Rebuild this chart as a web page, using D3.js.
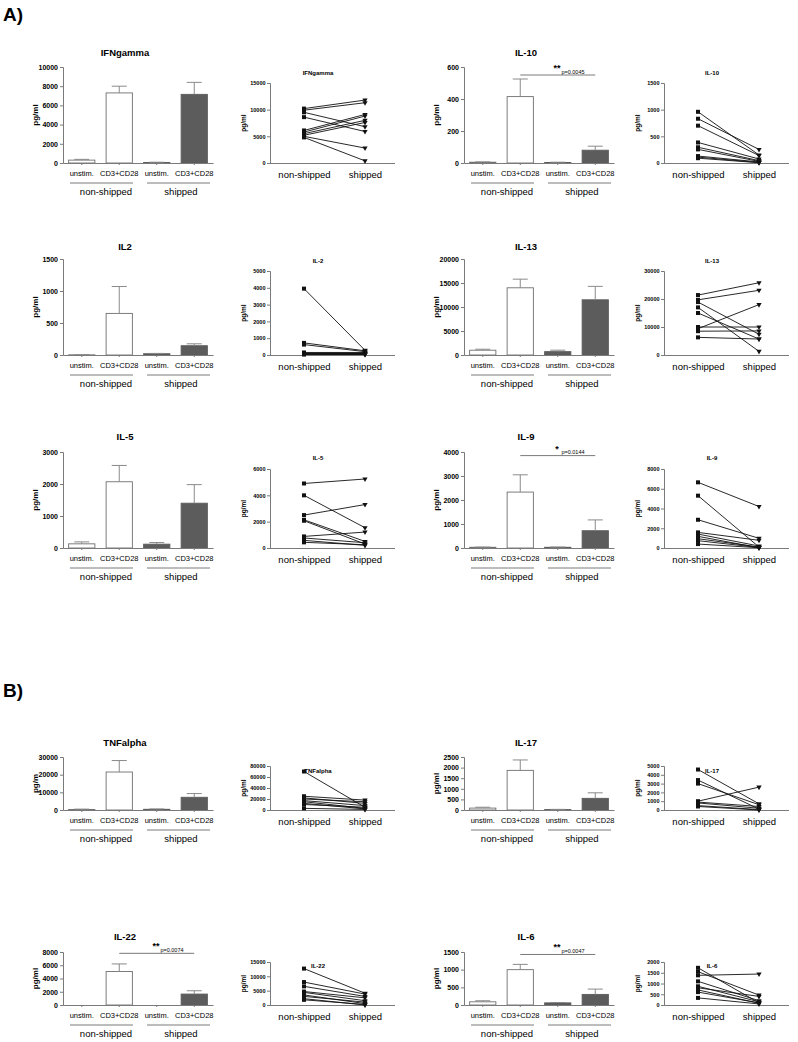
<!DOCTYPE html>
<html><head><meta charset="utf-8">
<script src="https://cdn.jsdelivr.net/npm/d3@7"></script>
<style>body{margin:0;background:#fff;} svg{display:block;font-family:"Liberation Sans",Arial,Helvetica,sans-serif;}</style>
</head><body><svg id="c" width="798" height="1042"></svg>
<script>
// ---------- data ----------
const barCategories = ["unstim.", "CD3+CD28", "unstim.", "CD3+CD28"];
const groupLabels = ["non-shipped", "shipped"];

const ifnBarMean = [300, 7300, 50, 7150];
const ifnBarUpper = [380, 8000, 80, 8400];
const ifnBarTicks = [0, 2000, 4000, 6000, 8000, 10000];
const ifnNon = [10200, 9900, 9500, 8600, 6100, 5800, 5500, 5200, 5000, 4800];
const ifnShip = [11800, 11300, 6800, 5900, 9100, 8800, 8000, 7600, 2800, 400];
const ifnLineTicks = [0, 5000, 10000, 15000];

const il10BarMean = [5, 415, 3, 80];
const il10BarUpper = [7, 525, 5, 105];
const il10BarTicks = [0, 200, 400, 600];
const il10Non = [960, 830, 700, 385, 295, 255, 130, 110, 90];
const il10Ship = [150, 255, 140, 75, 45, 30, 20, 10, 5];
const il10LineTicks = [0, 500, 1000, 1500];

const il2BarMean = [3, 650, 20, 145];
const il2BarUpper = [5, 1070, 25, 175];
const il2BarTicks = [0, 500, 1000, 1500];
const il2Non = [3950, 720, 620, 150, 100, 80, 60, 50, 30];
const il2Ship = [280, 250, 200, 150, 100, 80, 60, 50, 30];
const il2LineTicks = [0, 1000, 2000, 3000, 4000, 5000];

const il13BarMean = [1000, 14000, 700, 11500];
const il13BarUpper = [1200, 15800, 1000, 14300];
const il13BarTicks = [0, 5000, 10000, 15000, 20000];
const il13Non = [21400, 19700, 18900, 17000, 15000, 10000, 9400, 8500, 6300];
const il13Ship = [25800, 23100, 7400, 1300, 5700, 10000, 18000, 8600, 5700];
const il13LineTicks = [0, 10000, 20000, 30000];

const il5BarMean = [130, 2070, 120, 1400];
const il5BarUpper = [190, 2580, 170, 1980];
const il5BarTicks = [0, 1000, 2000, 3000];
const il5Non = [4900, 4000, 2500, 2140, 2070, 880, 760, 580, 430];
const il5Ship = [5240, 1540, 3300, 500, 300, 1210, 400, 200, 250];
const il5LineTicks = [0, 2000, 4000, 6000];

const il9BarMean = [30, 2330, 30, 720];
const il9BarUpper = [40, 3050, 40, 1170];
const il9BarTicks = [0, 1000, 2000, 3000, 4000];
const il9Non = [6650, 5300, 2860, 1580, 1410, 1180, 940, 740, 400];
const il9Ship = [4200, 100, 980, 780, 200, 30, 100, 50, 30];
const il9LineTicks = [0, 2000, 4000, 6000, 8000];

const tnfBarMean = [300, 21500, 400, 7200];
const tnfBarUpper = [500, 28000, 600, 9300];
const tnfBarTicks = [0, 10000, 20000, 30000];
const tnfNon = [70000, 25000, 22000, 20000, 17000, 15000, 12000, 10000, 3000];
const tnfShip = [5000, 18000, 12000, 15000, 8000, 3000, 2000, 5000, 1000];
const tnfLineTicks = [0, 20000, 40000, 60000, 80000];

const il17BarMean = [90, 1870, 20, 550];
const il17BarUpper = [130, 2360, 30, 810];
const il17BarTicks = [0, 500, 1000, 1500, 2000, 2500];
const il17Non = [4600, 3400, 3000, 1000, 900, 800, 500, 400];
const il17Ship = [700, 100, 600, 2600, 400, 200, 50, 0];
const il17LineTicks = [0, 1000, 2000, 3000, 4000, 5000];

const il22BarMean = [0, 5050, 0, 1650];
const il22BarUpper = [0, 6200, 0, 2150];
const il22BarTicks = [0, 2000, 4000, 6000, 8000];
const il22Non = [12700, 8000, 6500, 4700, 4400, 3500, 3000, 2200, 1800];
const il22Ship = [4100, 3800, 3000, 2500, 1500, 500, 1000, 0, 200];
const il22LineTicks = [0, 5000, 10000, 15000];

const il6BarMean = [90, 1000, 60, 300];
const il6BarUpper = [120, 1150, 70, 450];
const il6BarTicks = [0, 500, 1000, 1500];
const il6Non = [1730, 1550, 1380, 1100, 870, 800, 700, 600, 330];
const il6Ship = [100, 460, 1440, 200, 150, 400, 80, 100, 50];
const il6LineTicks = [0, 500, 1000, 1500, 2000];

// ---------- drawing ----------
const svg = d3.select("#c");
const AX = "#7a7a7a";
const FONT = '"Liberation Sans",Arial,Helvetica,sans-serif';

function styleAxis(g, fs) {
  g.select(".domain").attr("stroke", AX).attr("stroke-width", 1);
  g.selectAll(".tick line").attr("stroke", AX);
  g.selectAll(".tick text").attr("fill", "#000").attr("font-size", fs).attr("font-family", FONT);
}

function drawBar(o) {
  const g = svg.append("g");
  const W = 150;
  const y = d3.scaleLinear().domain([0, d3.max(o.ticks)]).range([o.bottom, o.top]);
  const x = d3.scaleBand().domain(d3.range(4)).range([o.x0, o.x0 + W]).paddingInner(0.3).paddingOuter(0.15);
  g.append("text").attr("x", o.x0 + 62).attr("y", o.titleY).attr("text-anchor", "middle")
    .attr("dominant-baseline", "middle").attr("font-weight", "bold").attr("font-size", 9.5).text(o.title);
  g.append("text").attr("transform", `translate(${o.x0 - 25},${(o.top + o.bottom) / 2}) rotate(-90)`)
    .attr("text-anchor", "middle").attr("font-weight", "bold").attr("font-size", 8).text(o.ylabel || "pg/ml");
  g.selectAll("rect.b").data(o.mean).join("rect")
    .attr("x", (d, i) => x(i)).attr("width", x.bandwidth())
    .attr("y", d => y(d)).attr("height", d => o.bottom - y(d))
    .attr("fill", (d, i) => i < 2 ? "#fff" : "#5c5c5c")
    .attr("stroke", (d, i) => i < 2 ? "#6f6f6f" : "#5c5c5c").attr("stroke-width", 0.9);
  o.upper.forEach((u, i) => {
    if (u <= o.mean[i]) return;
    const cx = x(i) + x.bandwidth() / 2;
    g.append("line").attr("x1", cx).attr("x2", cx).attr("y1", y(o.mean[i])).attr("y2", y(u)).attr("stroke", "#8a8a8a");
    g.append("line").attr("x1", cx - 7.5).attr("x2", cx + 7.5).attr("y1", y(u)).attr("y2", y(u)).attr("stroke", "#8a8a8a");
  });
  const ya = g.append("g").attr("transform", `translate(${o.x0},0)`)
    .call(d3.axisLeft(y).tickValues(o.ticks).tickSize(3).tickPadding(2).tickFormat(d3.format("d")));
  styleAxis(ya, 7);
  ya.selectAll(".tick text").attr("font-weight", "bold");
  const xa = g.append("g").attr("transform", `translate(0,${o.bottom})`)
    .call(d3.axisBottom(x).tickSize(2).tickPadding(6).tickSizeOuter(0).tickFormat(i => barCategories[i]));
  styleAxis(xa, 7.5);
  const gy = o.bottom + 20;
  [[o.x0 + 7, o.x0 + 70, 43], [o.x0 + 84, o.x0 + 147, 118]].forEach((s, k) => {
    g.append("line").attr("x1", s[0]).attr("x2", s[1]).attr("y1", gy).attr("y2", gy).attr("stroke", AX);
    g.append("text").attr("x", o.x0 + s[2]).attr("y", gy + 9).attr("text-anchor", "middle")
      .attr("dominant-baseline", "middle").attr("font-size", 9.5).text(groupLabels[k]);
  });
  if (o.sig) {
    const x1 = x(1) + x.bandwidth() / 2, x2 = x(3) + x.bandwidth() / 2;
    const sy = y(o.sig.level);
    g.append("line").attr("x1", x1).attr("x2", x2).attr("y1", sy).attr("y2", sy).attr("stroke", AX);
    g.append("text").attr("x", o.x0 + 93).attr("y", sy - 4).attr("text-anchor", "middle")
      .attr("font-weight", "bold").attr("font-size", 9).text(o.sig.stars);
    g.append("text").attr("x", o.x0 + 109).attr("y", sy - 1.5).attr("text-anchor", "middle")
      .attr("font-size", 5.5).text(o.sig.p);
  }
}

function drawLine(o) {
  const g = svg.append("g");
  const y = d3.scaleLinear().domain([0, d3.max(o.ticks)]).range([o.bottom, o.top]);
  const x = d3.scalePoint().domain(groupLabels).range([o.x0 + 34, o.x0 + 95]);
  g.append("text").attr("x", o.x0 + 48).attr("y", o.titleY).attr("text-anchor", "middle")
    .attr("dominant-baseline", "middle").attr("font-weight", "bold").attr("font-size", 6).text(o.title);
  g.append("text").attr("transform", `translate(${o.x0 - 24},${(o.top + o.bottom) / 2}) rotate(-90)`)
    .attr("text-anchor", "middle").attr("font-weight", "bold").attr("font-size", 6.5).text("pg/ml");
  const ya = g.append("g").attr("transform", `translate(${o.x0},0)`)
    .call(d3.axisLeft(y).tickValues(o.ticks).tickSize(3).tickPadding(1.5).tickFormat(d3.format("d")));
  styleAxis(ya, 5.5);
  ya.selectAll(".tick text").attr("font-weight", "bold");
  const xa = g.append("g").attr("transform", `translate(0,${o.bottom})`)
    .call(d3.axisBottom(x).tickSize(0).tickPadding(8).tickSizeOuter(0));
  xa.select(".domain").attr("d", `M${o.x0},0.5H${o.x0 + 125}`);
  styleAxis(xa, 9.5);
  const xn = x(groupLabels[0]), xs = x(groupLabels[1]);
  o.non.forEach((v, i) => {
    g.append("line").attr("x1", xn).attr("x2", xs).attr("y1", y(v)).attr("y2", y(o.ship[i]))
      .attr("stroke", "#111").attr("stroke-width", 0.9);
  });
  g.selectAll("rect.m").data(o.non).join("rect")
    .attr("x", xn - 2).attr("y", d => y(d) - 2).attr("width", 4).attr("height", 4).attr("fill", "#111");
  const tri = d3.symbol().type(d3.symbolTriangle).size(12);
  g.selectAll("path.t").data(o.ship).join("path")
    .attr("d", tri).attr("transform", d => `translate(${xs},${y(d)}) rotate(180)`).attr("fill", "#111");
}

svg.append("text").attr("x", 3).attr("y", 21).attr("font-weight", "bold").attr("font-size", 19).text("A)");
svg.append("text").attr("x", 3).attr("y", 697).attr("font-weight", "bold").attr("font-size", 19).text("B)");

const rowsBar = [
  {titleY: 53, top: 67, bottom: 163},
  {titleY: 247, top: 259, bottom: 355},
  {titleY: 437, top: 452, bottom: 548},
  {titleY: 743, top: 757, bottom: 810},
  {titleY: 937, top: 952, bottom: 1005}
];
const rowsLine = [
  {titleY: 73, top: 83, bottom: 163},
  {titleY: 261, top: 271, bottom: 355},
  {titleY: 458, top: 469, bottom: 548},
  {titleY: 771, top: 766, bottom: 810},
  {titleY: 966, top: 962, bottom: 1005}
];
const colBar = [63, 464];
const colLine = [270, 664];

drawBar({x0: colBar[0], ...rowsBar[0], title: "IFNgamma", mean: ifnBarMean, upper: ifnBarUpper, ticks: ifnBarTicks});
drawLine({x0: colLine[0], ...rowsLine[0], title: "IFNgamma", non: ifnNon, ship: ifnShip, ticks: ifnLineTicks});
drawBar({x0: colBar[1], ...rowsBar[0], title: "IL-10", mean: il10BarMean, upper: il10BarUpper, ticks: il10BarTicks,
  sig: {level: 550, stars: "**", p: "p=0.0045"}});
drawLine({x0: colLine[1], ...rowsLine[0], title: "IL-10", non: il10Non, ship: il10Ship, ticks: il10LineTicks});

drawBar({x0: colBar[0], ...rowsBar[1], title: "IL2", mean: il2BarMean, upper: il2BarUpper, ticks: il2BarTicks});
drawLine({x0: colLine[0], ...rowsLine[1], title: "IL-2", non: il2Non, ship: il2Ship, ticks: il2LineTicks});
drawBar({x0: colBar[1], ...rowsBar[1], title: "IL-13", mean: il13BarMean, upper: il13BarUpper, ticks: il13BarTicks});
drawLine({x0: colLine[1], ...rowsLine[1], title: "IL-13", non: il13Non, ship: il13Ship, ticks: il13LineTicks});

drawBar({x0: colBar[0], ...rowsBar[2], title: "IL-5", mean: il5BarMean, upper: il5BarUpper, ticks: il5BarTicks});
drawLine({x0: colLine[0], ...rowsLine[2], title: "IL-5", non: il5Non, ship: il5Ship, ticks: il5LineTicks});
drawBar({x0: colBar[1], ...rowsBar[2], title: "IL-9", mean: il9BarMean, upper: il9BarUpper, ticks: il9BarTicks,
  sig: {level: 3850, stars: "*", p: "p=0.0144"}});
drawLine({x0: colLine[1], ...rowsLine[2], title: "IL-9", non: il9Non, ship: il9Ship, ticks: il9LineTicks});

drawBar({x0: colBar[0], ...rowsBar[3], title: "TNFalpha", mean: tnfBarMean, upper: tnfBarUpper, ticks: tnfBarTicks, ylabel: "pg/m"});
drawLine({x0: colLine[0], ...rowsLine[3], title: "TNFalpha", non: tnfNon, ship: tnfShip, ticks: tnfLineTicks});
drawBar({x0: colBar[1], ...rowsBar[3], title: "IL-17", mean: il17BarMean, upper: il17BarUpper, ticks: il17BarTicks});
drawLine({x0: colLine[1], ...rowsLine[3], title: "IL-17", non: il17Non, ship: il17Ship, ticks: il17LineTicks});

drawBar({x0: colBar[0], ...rowsBar[4], title: "IL-22", mean: il22BarMean, upper: il22BarUpper, ticks: il22BarTicks,
  sig: {level: 7800, stars: "**", p: "p=0.0074"}});
drawLine({x0: colLine[0], ...rowsLine[4], title: "IL-22", non: il22Non, ship: il22Ship, ticks: il22LineTicks});
drawBar({x0: colBar[1], ...rowsBar[4], title: "IL-6", mean: il6BarMean, upper: il6BarUpper, ticks: il6BarTicks,
  sig: {level: 1430, stars: "**", p: "p=0.0047"}});
drawLine({x0: colLine[1], ...rowsLine[4], title: "IL-6", non: il6Non, ship: il6Ship, ticks: il6LineTicks});
</script></body></html>
